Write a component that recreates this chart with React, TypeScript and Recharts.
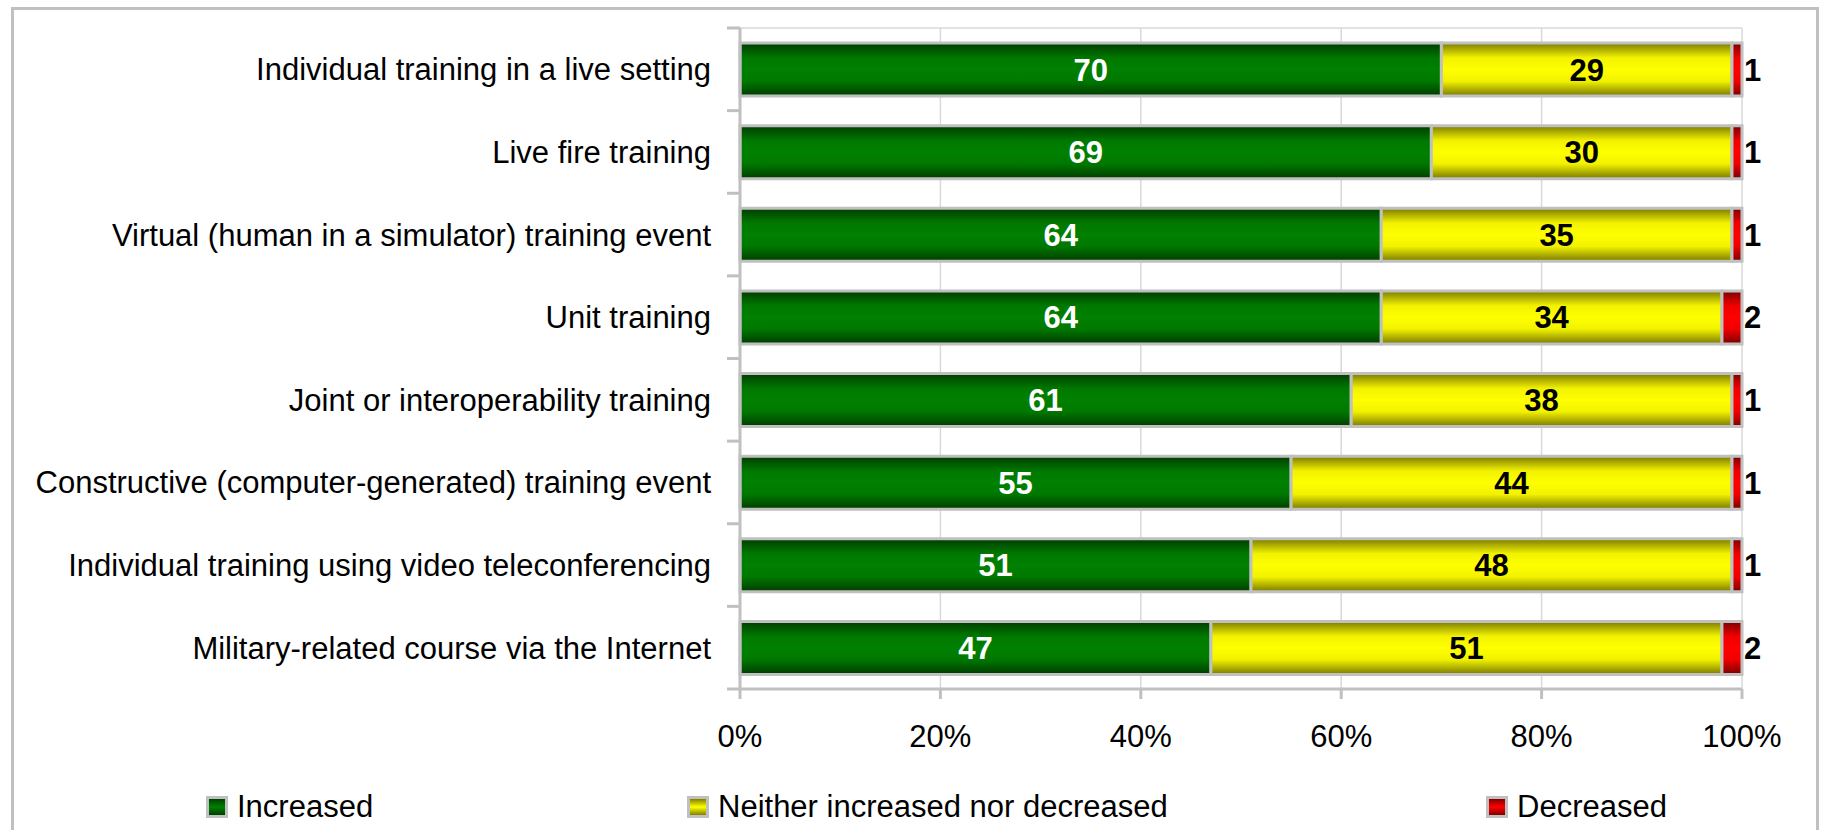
import React from 'react';
import { BarChart, Bar, XAxis, YAxis, CartesianGrid, Legend, LabelList } from 'recharts';

const categories = [
  'Individual training in a live setting',
  'Live fire training',
  'Virtual (human in a simulator) training event',
  'Unit training',
  'Joint or interoperability training',
  'Constructive (computer-generated) training event',
  'Individual training using video teleconferencing',
  'Military-related course via the Internet',
];
const increased = [70, 69, 64, 64, 61, 55, 51, 47];
const neither = [29, 30, 35, 34, 38, 44, 48, 51];
const decreased = [1, 1, 1, 2, 1, 1, 1, 2];
const xTicks = [0, 20, 40, 60, 80, 100];
const seriesNames = ['Increased', 'Neither increased nor decreased', 'Decreased'];
const seriesKeys = ['inc', 'nei', 'dec'];

const data = categories.map((name, i) => ({
  name,
  inc: increased[i],
  nei: neither[i],
  dec: decreased[i],
}));

const W = 1824;
const H = 830;
const MARGIN = { top: 28, right: 82, bottom: 0, left: 0 };
const Y_AXIS_W = 740;
const X_AXIS_H = 81;
const LEGEND_H = 60;
const PLOT_H = H - MARGIN.top - MARGIN.bottom - X_AXIS_H - LEGEND_H;
const BAND = PLOT_H / categories.length;
const Y_TICK_SIZE = 13;
const Y_TICK_MARGIN = 16;
const FS = 31;
const FONT = "'Liberation Sans', Arial, Helvetica, sans-serif";
const AXIS_GRAY = '#c0c0c0';
const LEGEND_LEFTS = [206, 687, 1486];

const gradients = [
  { id: 'gGreen', edge: '#003c00', mid: '#008000', near: '#007800' },
  { id: 'gYellow', edge: '#7a7a00', mid: '#ffff00', near: '#f2f200' },
  { id: 'gRed', edge: '#7a0000', mid: '#ff0000', near: '#f00000' },
];
const cssGrad = [
  'linear-gradient(#004000, #008000 50%, #004000)',
  'linear-gradient(#808000, #ffff00 50%, #808000)',
  'linear-gradient(#800000, #ff0000 50%, #800000)',
];

const YTick = (props: any) => {
  const { x, y, payload, index } = props;
  const band = payload && payload.offset > 0 ? payload.offset * 2 : BAND;
  const axisX = x + Y_TICK_SIZE + Y_TICK_MARGIN;
  return (
    <g>
      <line x1={axisX - Y_TICK_SIZE} x2={axisX} y1={y - band / 2} y2={y - band / 2} stroke={AXIS_GRAY} strokeWidth={3} />
      {index === categories.length - 1 && (
        <line x1={axisX - Y_TICK_SIZE} x2={axisX} y1={y + band / 2} y2={y + band / 2} stroke={AXIS_GRAY} strokeWidth={3} />
      )}
      <text x={x} y={y} dy={11} textAnchor="end" fontSize={FS} fontFamily={FONT} fill="#000">
        {payload.value}
      </text>
    </g>
  );
};

const XTick = (props: any) => {
  const { x, y, payload } = props;
  return (
    <text x={x} y={y} dy={46} textAnchor="middle" fontSize={FS} fontFamily={FONT} fill="#000">
      {payload.value}%
    </text>
  );
};

const LegendContent = () => (
  <div
    style={{
      position: 'relative',
      height: LEGEND_H,
      width: W,
      fontFamily: FONT,
      fontSize: FS,
      color: '#000',
    }}
  >
    {seriesNames.map((n, i) => (
      <div
        key={n}
        style={{
          position: 'absolute',
          left: LEGEND_LEFTS[i],
          top: 20,
          display: 'flex',
          alignItems: 'center',
          lineHeight: '34px',
          whiteSpace: 'nowrap',
        }}
      >
        <div
          style={{
            width: 16,
            height: 16,
            border: `3px solid ${AXIS_GRAY}`,
            background: cssGrad[i],
            marginRight: 9,
          }}
        />
        <span>{n}</span>
      </div>
    ))}
  </div>
);

export default function App() {
  return (
    <div style={{ position: 'absolute', left: 0, top: 0, width: W, height: H, overflow: 'hidden', background: '#fff' }}>
      <div
        style={{
          position: 'absolute',
          left: 11,
          top: 7,
          width: 1808,
          height: 900,
          border: `3px solid ${AXIS_GRAY}`,
          boxSizing: 'border-box',
        }}
      />
      <div style={{ position: 'absolute', left: 0, top: 0 }}>
        <BarChart width={W} height={H} data={data} layout="vertical" margin={MARGIN} barSize={53}>
          <defs>
            {gradients.map((g) => (
              <linearGradient key={g.id} id={g.id} x1="0" y1="0" x2="0" y2="1">
                <stop offset="0%" stopColor={g.edge} />
                <stop offset="28%" stopColor={g.near} />
                <stop offset="50%" stopColor={g.mid} />
                <stop offset="72%" stopColor={g.near} />
                <stop offset="100%" stopColor={g.edge} />
              </linearGradient>
            ))}
          </defs>
          <CartesianGrid
            stroke="#d9d9d9"
            strokeWidth={1.5}
            horizontalCoordinatesGenerator={(p: any) => [p && p.offset ? p.offset.top : MARGIN.top]}
          />
          <XAxis
            type="number"
            domain={[0, 100]}
            ticks={xTicks}
            height={X_AXIS_H}
            axisLine={{ stroke: AXIS_GRAY, strokeWidth: 3 }}
            tickLine={{ stroke: AXIS_GRAY, strokeWidth: 3 }}
            tickSize={10}
            tick={<XTick />}
            interval={0}
          />
          <YAxis
            type="category"
            dataKey="name"
            width={Y_AXIS_W}
            axisLine={{ stroke: AXIS_GRAY, strokeWidth: 3 }}
            tickLine={false}
            tickSize={Y_TICK_SIZE}
            tickMargin={Y_TICK_MARGIN}
            tick={<YTick />}
            interval={0}
          />
          <Legend
            verticalAlign="bottom"
            height={LEGEND_H}
            content={<LegendContent />}
            wrapperStyle={{ left: 0, width: W }}
          />
          <Bar dataKey={seriesKeys[0]} name={seriesNames[0]} stackId="a" fill="url(#gGreen)" stroke={AXIS_GRAY} strokeWidth={3} isAnimationActive={false}>
            <LabelList dataKey={seriesKeys[0]} position="center" fill="#fff" fontSize={FS} fontWeight="bold" fontFamily={FONT} />
          </Bar>
          <Bar dataKey={seriesKeys[1]} name={seriesNames[1]} stackId="a" fill="url(#gYellow)" stroke={AXIS_GRAY} strokeWidth={3} isAnimationActive={false}>
            <LabelList dataKey={seriesKeys[1]} position="center" fill="#000" fontSize={FS} fontWeight="bold" fontFamily={FONT} />
          </Bar>
          <Bar dataKey={seriesKeys[2]} name={seriesNames[2]} stackId="a" fill="url(#gRed)" stroke={AXIS_GRAY} strokeWidth={3} isAnimationActive={false}>
            <LabelList dataKey={seriesKeys[2]} position="right" offset={2} fill="#000" fontSize={FS} fontWeight="bold" fontFamily={FONT} />
          </Bar>
        </BarChart>
      </div>
    </div>
  );
}
